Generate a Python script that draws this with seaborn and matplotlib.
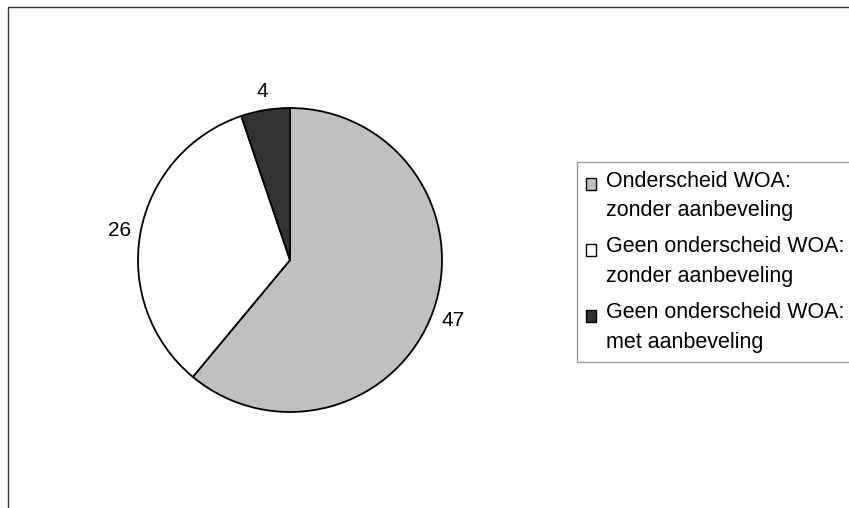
import matplotlib
matplotlib.use("Agg")
import matplotlib.pyplot as plt
import matplotlib.patches as mpatches
from matplotlib.legend_handler import HandlerPatch
import numpy as np
import seaborn as sns

# Data
categories = [
    "Onderscheid WOA:\nzonder aanbeveling",
    "Geen onderscheid WOA:\nzonder aanbeveling",
    "Geen onderscheid WOA:\nmet aanbeveling",
]
counts = [47, 26, 4]
slice_colors = ["#C0C0C0", "#FFFFFF", "#333333"]

sns.set_theme(style="white")
plt.rcParams["font.family"] = ["Liberation Sans", "DejaVu Sans"]
plt.rcParams["text.color"] = "black"

W, H = 849, 508
fig = plt.figure(figsize=(W / 100, H / 100), dpi=100)
fig.patch.set_facecolor("white")

# outer frame (runs off the right and bottom edges)
frame = mpatches.Rectangle((8 / W, -0.1), 1.2, (H - 7) / H + 0.1,
                           transform=fig.transFigure, fill=False,
                           edgecolor="#333333", linewidth=1.0)
fig.add_artist(frame)

radius_px = 152
cx, cy = 290, H - 260
side = 2.5 * radius_px
ax = fig.add_axes([(cx - side / 2) / W, (cy - side / 2) / H, side / W, side / H])

wedges, texts = ax.pie(
    counts,
    labels=[str(v) for v in counts],
    colors=slice_colors,
    startangle=90,
    counterclock=False,
    labeldistance=1.14,
    wedgeprops=dict(edgecolor="black", linewidth=1.3),
    textprops=dict(fontsize=15, color="black"),
)
for t in texts:
    t.set_horizontalalignment("center")
    t.set_verticalalignment("center_baseline")
ax.set_xlim(-1.25, 1.25)
ax.set_ylim(-1.25, 1.25)
ax.set_aspect("equal")


def top_line_square(legend, orig_handle, xdescent, ydescent, width, height, fontsize):
    # square key aligned with the first line of a two-line label
    return mpatches.Rectangle((-xdescent, -ydescent + 0.56 * fontsize), width, height)


handles = [mpatches.Patch(facecolor=c, edgecolor="black", linewidth=1.0)
           for c in slice_colors]
leg = fig.legend(
    handles, categories,
    loc="upper left",
    bbox_to_anchor=(577 / W, (H - 162) / H),
    bbox_transform=fig.transFigure,
    fontsize=15.5,
    labelcolor="black",
    frameon=True,
    fancybox=False,
    edgecolor="#808080",
    handlelength=0.46,
    handleheight=0.46,
    handletextpad=0.5,
    labelspacing=0.7,
    borderpad=0.4,
    borderaxespad=0,
    handler_map={mpatches.Patch: HandlerPatch(patch_func=top_line_square)},
)
leg.get_frame().set_linewidth(1.0)
for t in leg.get_texts():
    t.set_linespacing(1.55)

fig.savefig("out.png", dpi=100, facecolor="white")
